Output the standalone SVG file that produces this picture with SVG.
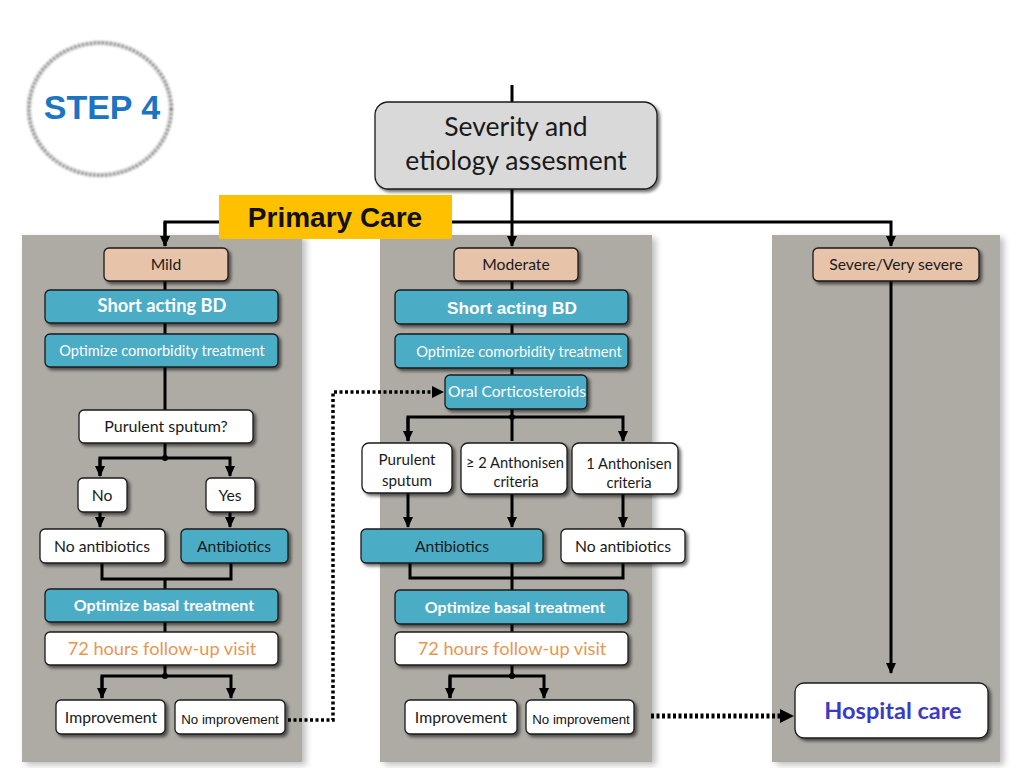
<svg xmlns="http://www.w3.org/2000/svg" width="1024" height="768" viewBox="0 0 1024 768">
<style>
.panel{fill:#aeaaa4}
.box{stroke:#1a1a1a;stroke-width:1.3}
.tan{fill:#e7c3a9}
.blue{fill:#4bacc6}
.white{fill:#ffffff}
.t{font-family:Lato,"Liberation Sans",sans-serif;text-anchor:middle;fill:#1a1a1a}
.tw{font-family:Lato,"Liberation Sans",sans-serif;text-anchor:middle;fill:#ffffff}
.a{font-family:"Liberation Sans",Arial,sans-serif;text-anchor:middle}
.ln{fill:none;stroke:#000;stroke-width:3}
.dot{fill:none;stroke:#000;stroke-dasharray:3 2.5}
</style>
<defs>
<marker id="arr" markerUnits="userSpaceOnUse" markerWidth="12" markerHeight="12" viewBox="0 0 12 12" refX="10" refY="6" orient="auto">
<path d="M0,1 L11,6 L0,11 Z" fill="#000"/>
</marker>
<filter id="sh" x="-10%" y="-20%" width="130%" height="160%">
<feDropShadow dx="2.5" dy="2.5" stdDeviation="1.5" flood-color="#000" flood-opacity="0.55"/>
</filter>
<filter id="psh" x="-10%" y="-5%" width="120%" height="110%">
<feDropShadow dx="4" dy="3" stdDeviation="3" flood-color="#000" flood-opacity="0.25"/>
</filter>
<filter id="blur"><feGaussianBlur stdDeviation="0.8"/></filter>
</defs>
<rect width="1024" height="768" fill="#ffffff"/>

<g id="panels" filter="url(#psh)">
<rect class="panel" x="22" y="235" width="280" height="527"/>
<rect class="panel" x="380" y="235" width="272" height="527"/>
<rect class="panel" x="772" y="235" width="228" height="527"/>
</g>

<g id="step4">
<ellipse cx="100" cy="109" rx="71" ry="66" fill="#ffffff" stroke="#7a7a7a" stroke-width="4" stroke-dasharray="2.5 1.5" filter="url(#blur)"/>
<text class="a" x="102" y="119" font-size="34" font-weight="bold" fill="#1b75c3">STEP 4</text>
</g>

<g id="connectors">
<path class="ln" d="M512,85 V102"/>
<path class="ln" d="M512,189 V246" marker-end="url(#arr)"/>
<path class="ln" d="M165,246 V222 H891 V246" marker-end="url(#arr)"/>
<path class="ln" d="M165,222 V246" marker-end="url(#arr)"/>
<path class="ln" d="M165,281 V410"/>
<path class="ln" d="M165,443 V458"/>
<path class="ln" d="M100,476 V458 H230 V476" marker-end="url(#arr)"/>
<path class="ln" d="M100,458 V476" marker-end="url(#arr)"/>
<circle cx="165" cy="458" r="3" fill="#000"/>
<path class="ln" d="M100,512 V527" marker-end="url(#arr)"/>
<path class="ln" d="M230,512 V527" marker-end="url(#arr)"/>
<path class="ln" d="M102,563 V579 H231 V563"/>
<path class="ln" d="M165,579 V589"/>
<path class="ln" d="M165,622 V632"/>
<path class="ln" d="M165,665 V676"/>
<path class="ln" d="M102,698 V676 H231 V698" marker-end="url(#arr)"/>
<path class="ln" d="M102,676 V698" marker-end="url(#arr)"/>
<circle cx="165" cy="676" r="3" fill="#000"/>
<path class="dot" stroke-width="3.5" d="M288,720 H333 V392 H432"/>
<path d="M432,386 L444,392 L432,398 Z" fill="#000"/>
<path class="ln" d="M512,281 V290"/>
<path class="ln" d="M512,324 V334"/>
<path class="ln" d="M512,368 V375"/>
<path class="ln" d="M512,409 V441"/>
<path class="ln" d="M408,441 V417 H623 V441" marker-end="url(#arr)"/>
<path class="ln" d="M408,417 V441" marker-end="url(#arr)"/>
<circle cx="512" cy="417" r="3" fill="#000"/>
<path class="ln" d="M408,493 V527" stroke="#333" marker-end="url(#arr)"/>
<path class="ln" d="M512,494 V527" marker-end="url(#arr)"/>
<path class="ln" d="M623,494 V527" marker-end="url(#arr)"/>
<path class="ln" d="M410,563 V578 H623 V563"/>
<path class="ln" d="M512,563 V590"/>
<path class="ln" d="M512,624 V632"/>
<path class="ln" d="M512,665 V676"/>
<path class="ln" d="M450,698 V676 H544 V698" marker-end="url(#arr)"/>
<path class="ln" d="M450,676 V698" marker-end="url(#arr)"/>
<circle cx="512" cy="676" r="3" fill="#000"/>
<path class="dot" stroke-width="5" d="M651,716 H780"/>
<path d="M780,709 L794,716 L780,723 Z" fill="#000"/>
<path class="ln" d="M891,281 V673" marker-end="url(#arr)"/>
</g>

<g id="severity">
<rect class="box" x="375" y="102" width="282" height="87" rx="13" fill="#d9d9d9" filter="url(#sh)"/>
<text class="t" x="516" y="136" font-size="26.5">Severity and</text>
<text class="t" x="516" y="170" font-size="26.5">etiology assesment</text>
</g>

<g id="primary-care">
<rect x="219" y="195" width="233" height="44" fill="#ffc000"/>
<text class="a" x="335" y="227" font-size="28" font-weight="bold" fill="#111">Primary Care</text>
</g>

<g id="mild">
<rect class="box tan" x="104" y="248" width="124" height="33" rx="5" filter="url(#sh)"/>
<text class="t" x="166" y="270" font-size="15.7">Mild</text>
</g>
<g id="moderate">
<rect class="box tan" x="454" y="248" width="124" height="33" rx="5" filter="url(#sh)"/>
<text class="t" x="516" y="270" font-size="15.7">Moderate</text>
</g>
<g id="severe">
<rect class="box tan" x="813" y="248" width="166" height="33" rx="5" filter="url(#sh)"/>
<text class="t" x="896" y="270" font-size="15.7">Severe/Very severe</text>
</g>

<g id="l-sabd">
<rect class="box blue" x="45" y="290" width="233" height="33" rx="5" filter="url(#sh)"/>
<text class="tw" x="162" y="312" font-size="18.3" font-weight="bold">Short acting BD</text>
</g>
<g id="l-comorb">
<rect class="box blue" x="45" y="334" width="233" height="33" rx="5" filter="url(#sh)"/>
<text class="tw" x="162" y="356" font-size="14.6">Optimize comorbidity treatment</text>
</g>
<g id="l-purulent">
<rect class="box white" x="79" y="410" width="174" height="33" rx="5" filter="url(#sh)"/>
<text class="t" x="166" y="432" font-size="16">Purulent sputum?</text>
</g>
<g id="l-no">
<rect class="box white" x="78" y="478" width="49" height="34" rx="5" filter="url(#sh)"/>
<text class="t" x="102" y="501" font-size="15.7">No</text>
</g>
<g id="l-yes">
<rect class="box white" x="206" y="478" width="49" height="34" rx="5" filter="url(#sh)"/>
<text class="t" x="230" y="501" font-size="15.7">Yes</text>
</g>
<g id="l-noanti">
<rect class="box white" x="40" y="529" width="125" height="34" rx="5" filter="url(#sh)"/>
<text class="t" x="102" y="552" font-size="15.7">No antibiotics</text>
</g>
<g id="l-anti">
<rect class="box blue" x="181" y="529" width="107" height="34" rx="5" filter="url(#sh)"/>
<text class="t" x="234" y="552" font-size="15.7">Antibiotics</text>
</g>
<g id="l-basal">
<rect class="box blue" x="45" y="589" width="233" height="33" rx="5" filter="url(#sh)"/>
<text class="tw" x="164" y="611" font-size="16" font-weight="bold">Optimize basal treatment</text>
</g>
<g id="l-72h">
<rect class="box white" x="45" y="632" width="233" height="33" rx="5" filter="url(#sh)"/>
<text class="t" x="162" y="655" font-size="18.2" style="fill:#e8964f">72 hours follow-up visit</text>
</g>
<g id="l-improv">
<rect class="box white" x="56" y="700" width="109" height="34" rx="5" filter="url(#sh)"/>
<text class="t" x="111" y="723" font-size="15.8">Improvement</text>
</g>
<g id="l-noimprov">
<rect class="box white" x="175" y="700" width="110" height="34" rx="5" filter="url(#sh)"/>
<text class="a" x="230" y="724" font-size="13.3" fill="#111">No improvement</text>
</g>

<g id="m-sabd">
<rect class="box blue" x="395" y="290" width="233" height="34" rx="5" filter="url(#sh)"/>
<text class="a" x="512" y="314" font-size="17.2" font-weight="bold" fill="#fff">Short acting BD</text>
</g>
<g id="m-comorb">
<rect class="box blue" x="395" y="334" width="233" height="34" rx="5" filter="url(#sh)"/>
<text class="tw" x="519" y="357" font-size="14.6">Optimize comorbidity treatment</text>
</g>
<g id="m-oral">
<rect class="box blue" x="445" y="375" width="142" height="34" rx="5" filter="url(#sh)"/>
<text class="tw" x="517" y="397" font-size="15.6">Oral Corticosteroids</text>
</g>
<g id="m-purulent">
<rect class="box white" x="362" y="443" width="90" height="50" rx="7" filter="url(#sh)"/>
<text class="t" x="407" y="465" font-size="15.2">Purulent</text>
<text class="t" x="407" y="486" font-size="15.2">sputum</text>
</g>
<g id="m-2anth">
<rect class="box white" x="461" y="443" width="106" height="51" rx="7" filter="url(#sh)"/>
<text class="t" x="515" y="468" font-size="14.7">≥ 2 Anthonisen</text>
<text class="t" x="516" y="487" font-size="14.7">criteria</text>
</g>
<g id="m-1anth">
<rect class="box white" x="572" y="443" width="106" height="51" rx="7" filter="url(#sh)"/>
<text class="t" x="629" y="469" font-size="14.7">1 Anthonisen</text>
<text class="t" x="629" y="488" font-size="14.7">criteria</text>
</g>
<g id="m-anti">
<rect class="box blue" x="361" y="529" width="182" height="34" rx="5" filter="url(#sh)"/>
<text class="t" x="452" y="552" font-size="15.7">Antibiotics</text>
</g>
<g id="m-noanti">
<rect class="box white" x="561" y="529" width="124" height="34" rx="5" filter="url(#sh)"/>
<text class="t" x="623" y="552" font-size="15.7">No antibiotics</text>
</g>
<g id="m-basal">
<rect class="box blue" x="395" y="590" width="233" height="34" rx="5" filter="url(#sh)"/>
<text class="tw" x="515" y="613" font-size="16" font-weight="bold">Optimize basal treatment</text>
</g>
<g id="m-72h">
<rect class="box white" x="395" y="632" width="233" height="33" rx="5" filter="url(#sh)"/>
<text class="t" x="512" y="655" font-size="18.2" style="fill:#e8964f">72 hours follow-up visit</text>
</g>
<g id="m-improv">
<rect class="box white" x="405" y="700" width="112" height="34" rx="5" filter="url(#sh)"/>
<text class="t" x="461" y="723" font-size="15.8">Improvement</text>
</g>
<g id="m-noimprov">
<rect class="box white" x="526" y="700" width="108" height="34" rx="5" filter="url(#sh)"/>
<text class="a" x="581" y="724" font-size="13.3" fill="#111">No improvement</text>
</g>

<g id="hospital">
<rect class="box white" x="795" y="683" width="193" height="55" rx="9" filter="url(#sh)"/>
<text class="t" x="893" y="719" font-size="23.5" font-weight="bold" style="fill:#3a3ac8">Hospital care</text>
</g>
</svg>
